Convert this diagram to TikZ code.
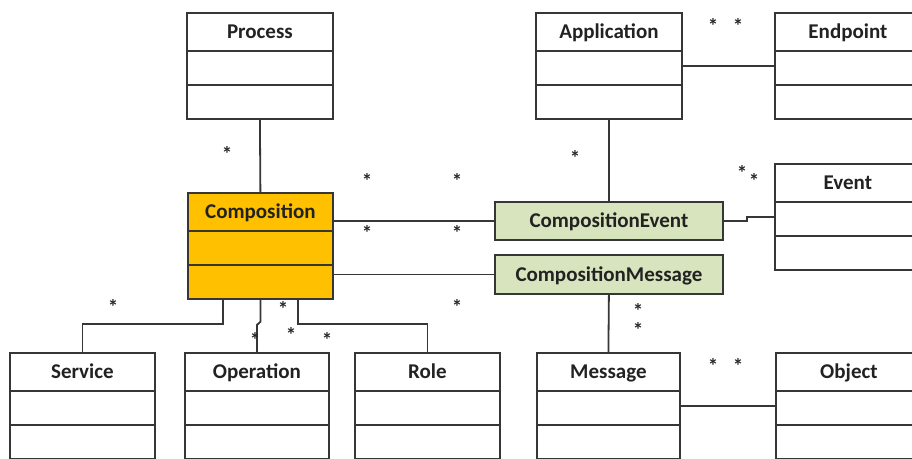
\documentclass[tikz,border=0pt]{standalone}
\usepackage{fontspec}
\setmainfont{Carlito}
\definecolor{lncol}{HTML}{363636}
\definecolor{txcol}{HTML}{222222}
\definecolor{orangefill}{HTML}{FFC000}
\definecolor{greenfill}{HTML}{D7E4BD}
\tikzset{
  cls/.style={draw=lncol, line width=1.8pt, rectangle, minimum height=106pt, inner sep=0pt, anchor=north west},
  clsname/.style={anchor=center, yshift=-19.5pt, inner sep=0pt, text height=15pt, text depth=1.6pt, font=\fontsize{21}{21}\selectfont\bfseries, text=txcol},
  clsline/.style={draw=lncol, line width=1.8pt},
  assoc/.style={draw=lncol, line width=1.8pt},
  greenbox/.style={draw=lncol, line width=1.8pt, fill=greenfill, rectangle, minimum width=228pt, inner sep=0pt, anchor=north west, text height=15pt, text depth=1.6pt, font=\fontsize{21}{21}\selectfont\bfseries, text=txcol},
  mult/.style={font=\fontsize{21}{21}\selectfont\bfseries, text=black!85, inner sep=0pt, anchor=center}
}
\newcommand\umlclass[6]{%
  \node[cls, fill=#5, minimum width=#4pt, label={[clsname]north:#6}] (#1) at (#2,#3) {};
  \draw[clsline] ([yshift=-39pt]#1.north west) -- ([yshift=-39pt]#1.north east);
  \draw[clsline] ([yshift=-73pt]#1.north west) -- ([yshift=-73pt]#1.north east);
}
\begin{document}
\begin{tikzpicture}[x=1pt,y=-1pt]
\useasboundingbox[fill=white] (0,0) rectangle (912,458);
% classes
\umlclass{process}{186}{12}{146}{white}{Process}
\umlclass{app}{535}{12}{146}{white}{Application}
\umlclass{endpoint}{774}{12}{146}{white}{Endpoint}
\umlclass{event}{774}{163}{146}{white}{Event}
\umlclass{comp}{187}{192}{145}{orangefill}{Composition}
\umlclass{service}{9}{352}{145}{white}{Service}
\umlclass{operation}{184}{352}{144}{white}{Operation}
\umlclass{role}{354}{352}{145}{white}{Role}
\umlclass{message}{536}{352}{143}{white}{Message}
\umlclass{object}{775}{352}{146}{white}{Object}
\node[greenbox, minimum height=38pt] (cev) at (494,201) {CompositionEvent};
\node[greenbox, minimum height=39pt] (cmsg) at (494,254) {CompositionMessage};
% connectors
\draw[assoc] (process.south) -- (comp.north);
\draw[assoc] (app.south) -- (cev.north);
\draw[assoc] (app.east) -- (endpoint.west);
\draw[assoc] (cev.west -| comp.east) -- (cev.west);
\draw[assoc] (cmsg.west -| comp.east) -- (cmsg.west);
\draw[assoc] (cev.east) -- ++(23,0) |- (event.west);
\draw[assoc] (cmsg.south) -- (message.north);
\draw[assoc] (message.east) -- (object.west);
\draw[assoc] ([xshift=36pt]comp.south west) -- ++(0,24) -| (service.north);
\draw[assoc] (comp.south) -- ++(0,22) -- ([yshift=27pt]operation.north) -- (operation.north);
\draw[assoc] ([xshift=-36pt]comp.south east) -- ++(0,24) -| (role.north);
% multiplicities
\node[mult] (m1) at (227,154) {*};
\node[mult] (m2) at (367,181) {*};
\node[mult] (m3) at (457,181) {*};
\node[mult] (m4) at (367,233) {*};
\node[mult] (m5) at (457,233) {*};
\node[mult] (m6) at (457,307) {*};
\node[mult] (m7) at (283,309) {*};
\node[mult] (m8) at (255,340) {*};
\node[mult] (m9) at (291,335) {*};
\node[mult] (m10) at (327,340) {*};
\node[mult] (m11) at (113,307) {*};
\node[mult] (m12) at (575,158) {*};
\node[mult] (m13) at (742,173) {*};
\node[mult] (m14) at (754,181) {*};
\node[mult] (m15) at (713,26) {*};
\node[mult] (m16) at (738,26) {*};
\node[mult] (m17) at (638,311) {*};
\node[mult] (m18) at (638,330) {*};
\node[mult] (m19) at (713,366) {*};
\node[mult] (m20) at (738,366) {*};
\end{tikzpicture}
\end{document}
